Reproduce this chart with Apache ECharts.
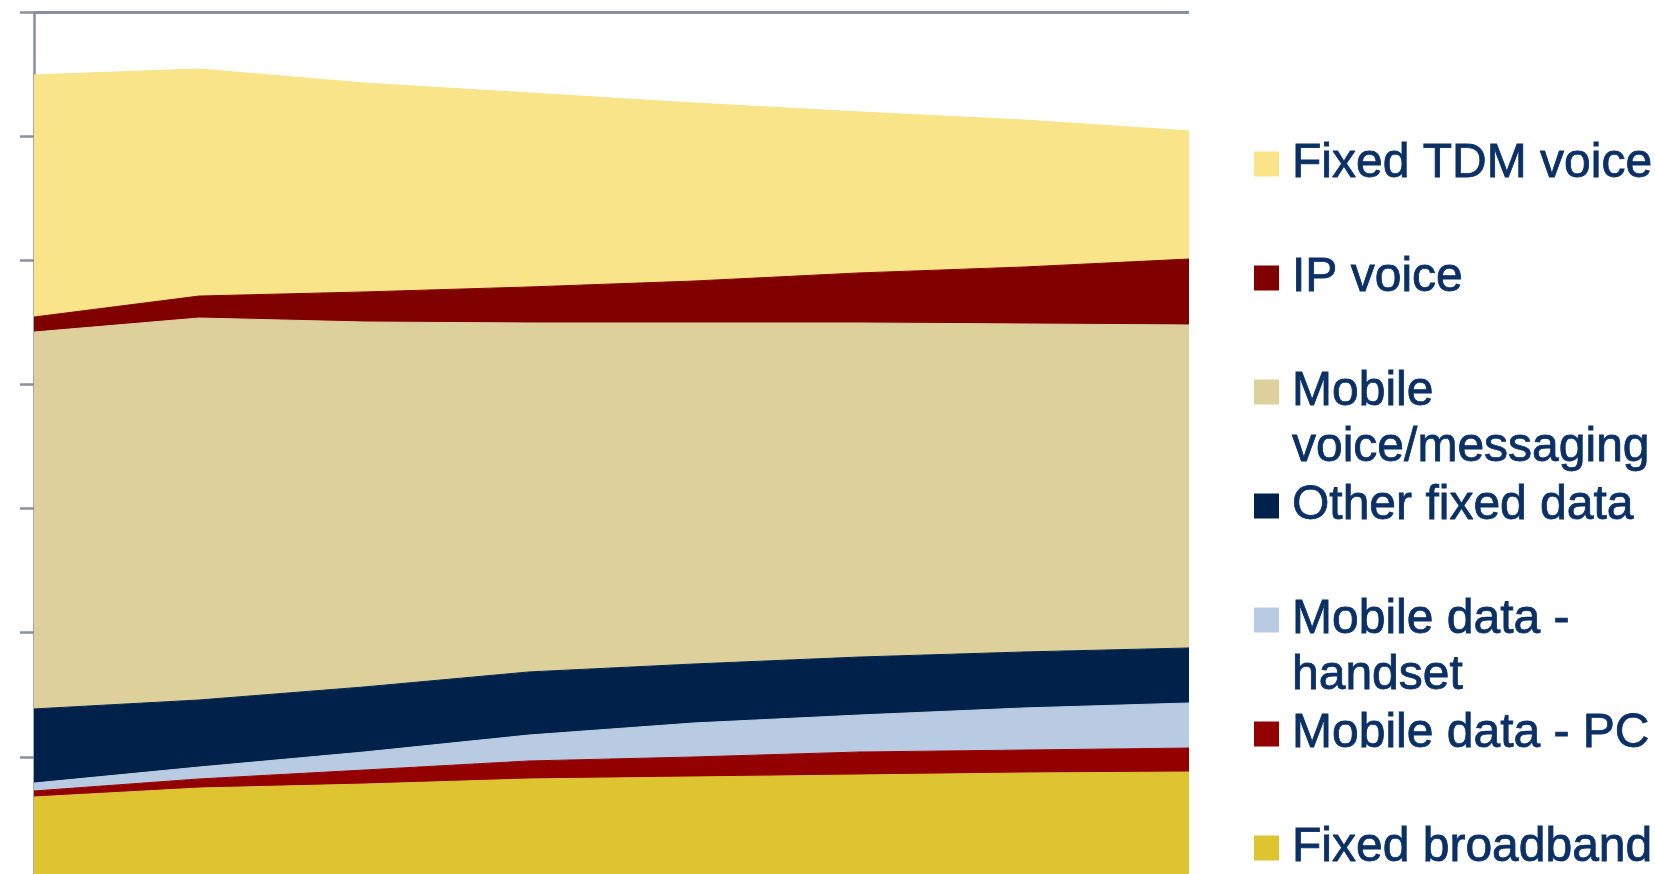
<!DOCTYPE html>
<html>
<head>
<meta charset="utf-8">
<script src="https://cdn.jsdelivr.net/npm/echarts@6/dist/echarts.min.js"></script>
<style>
  html, body { margin: 0; padding: 0; background: #fff; }
  #chart { width: 1655px; height: 874px; }
</style>
</head>
<body>
<div id="chart"></div>
<script>
// x categories (labels fall below the visible area)
const years = ['2008', '2009', '2010', '2011', '2012', '2013', '2014', '2015']

// stacked from the bottom up
const fixedBroadband = [6.77, 7.49, 7.81, 8.22, 8.38, 8.54, 8.70, 8.78]
const mobileDataPC = [0.48, 0.73, 1.13, 1.45, 1.61, 1.85, 1.85, 1.93]
const mobileDataHandset = [0.64, 0.96, 1.45, 2.09, 2.74, 2.98, 3.39, 3.63]
const otherFixedData = [5.97, 5.40, 5.24, 5.08, 4.75, 4.67, 4.51, 4.43]
const mobileVoice = [30.36, 30.77, 29.40, 28.11, 27.47, 26.91, 26.42, 26.02]
const ipVoice = [1.21, 1.77, 2.42, 2.90, 3.38, 4.03, 4.59, 5.31]
const fixedTdmVoice = [19.50, 18.29, 16.83, 15.63, 14.34, 12.97, 11.84, 10.32]

const yTicks = [0, 10, 20, 30, 40, 50, 60, 70]

const stackSeries = [
  { name: 'Fixed broadband', data: fixedBroadband, color: '#DDC430' },
  { name: 'Mobile data - PC', data: mobileDataPC, color: '#920000' },
  { name: 'Mobile data - handset', data: mobileDataHandset, color: '#B9CBE3' },
  { name: 'Other fixed data', data: otherFixedData, color: '#00214A' },
  { name: 'Mobile voice/messaging', data: mobileVoice, color: '#DDD09B' },
  { name: 'IP voice', data: ipVoice, color: '#800000' },
  { name: 'Fixed TDM voice', data: fixedTdmVoice, color: '#F9E48A' }
]

// legend runs top to bottom, some labels wrap onto a second line
const legendOrder = ['Fixed TDM voice', 'IP voice', 'Mobile voice/messaging', 'Other fixed data',
  'Mobile data - handset', 'Mobile data - PC', 'Fixed broadband']
// a blank first line keeps the marker level with the first text line
const legendLabel = {
  'Mobile voice/messaging': ' \nMobile\nvoice/messaging',
  'Mobile data - handset': ' \nMobile data -\nhandset'
}

const LINE_H = 56
const TXT = '#0B3066'
const legends = legendOrder.map((name, i) => {
  const centre = 163 + i * 114
  const nLines = legendLabel[name] ? 3 : 1
  return {
    data: [name],
    orient: 'vertical',
    left: 1254,
    top: centre - LINE_H * nLines / 2 + 1,
    padding: 0,
    icon: 'rect',
    itemWidth: 25,
    itemHeight: 25,
    selectedMode: false,
    itemStyle: { borderWidth: 0 },
    formatter: n => legendLabel[n] || n,
    textStyle: {
      fontFamily: 'Liberation Sans, Arial, sans-serif',
      fontSize: 48,
      lineHeight: LINE_H,
      color: TXT,
      textBorderColor: TXT,
      textBorderWidth: 0.8,
      padding: [0, 0, 0, 8]
    }
  }
})

const chart = echarts.init(document.getElementById('chart'))
const option = {
  animation: false,
  backgroundColor: '#fff',
  legend: legends,
  // x axis sits just below the picture's lower edge
  grid: { left: 34, top: 12, width: 1155, height: 869, outerBoundsMode: 'none', containLabel: false },
  xAxis: {
    type: 'category',
    boundaryGap: false,
    data: years,
    axisLine: { show: false },
    axisTick: { show: false },
    axisLabel: { show: false }
  },
  yAxis: {
    type: 'value',
    min: yTicks[0],
    max: yTicks[yTicks.length - 1],
    interval: yTicks[1] - yTicks[0],
    axisLine: { show: true, lineStyle: { color: '#8A8EA0', width: 2.5 } },
    axisTick: { show: true, inside: false, length: 14, lineStyle: { color: '#8A8EA0', width: 2.5 } },
    axisLabel: { show: false },
    splitLine: { show: true, lineStyle: { color: '#8A8EA0', width: 3 } }
  },
  series: stackSeries.map(s => ({
    name: s.name,
    type: 'line',
    stack: 'total',
    data: s.data,
    color: s.color,
    showSymbol: false,
    symbol: 'none',
    lineStyle: { width: 1, color: s.color },
    itemStyle: { color: s.color },
    areaStyle: { color: s.color, opacity: 1 }
  }))
}
chart.setOption(option)
</script>
</body>
</html>
